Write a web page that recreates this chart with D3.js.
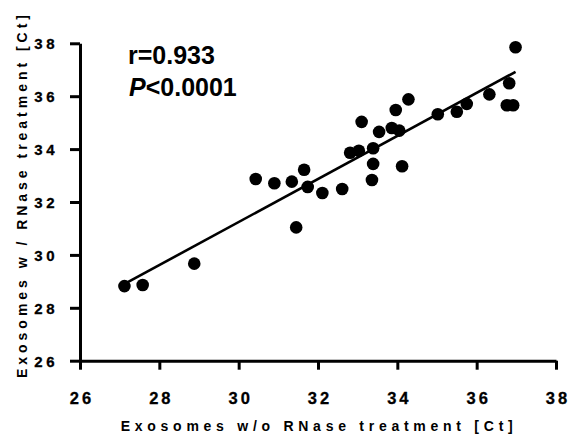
<!DOCTYPE html>
<html>
<head>
<meta charset="utf-8">
<script src="https://cdn.jsdelivr.net/npm/d3@7"></script>
<style>
  body { margin: 0; background: #fff; }
  text { font-family: "Liberation Sans", Arial, sans-serif; font-weight: bold; fill: #000; }
</style>
</head>
<body>
<div id="chart"></div>
<script>
/* Data
======================================================================= */
var withoutRNase = [27.12, 27.58, 28.88, 30.43, 30.90, 31.34, 31.45, 31.65, 31.74, 32.11,
                    32.61, 32.81, 33.03, 33.10, 33.36, 33.39, 33.39, 33.54, 33.86, 33.96,
                    34.05, 34.12, 34.28, 35.02, 35.50, 35.75, 36.32, 36.76, 36.82, 36.92, 36.98],
    withRNase = [28.82, 28.86, 29.67, 32.87, 32.71, 32.77, 31.04, 33.22, 32.57, 32.34,
                 32.49, 33.86, 33.94, 35.03, 32.83, 34.03, 33.44, 34.65, 34.80, 35.48,
                 34.70, 33.35, 35.88, 35.32, 35.41, 35.71, 36.07, 35.66, 36.49, 35.66, 37.85],
    fitRange = [27.17, 36.98], // x span of the fitted line
    fitSlope = 0.8135,         // slope of the fitted line
    fitIntercept = 6.838,      // intercept of the fitted line
    tickValues = [26, 28, 30, 32, 34, 36, 38],
    statLabels = ['r=0.933', '<0.0001'];

var W = 578, H = 439;

var svg = d3.select('#chart').append('svg')
  .attr('width', W)
  .attr('height', H);

// Scales
var x = d3.scaleLinear().domain([26, 38]).range([80, 556]),
    y = d3.scaleLinear().domain([26, 38]).range([360.7, 43.3]);

// X axis
var gx = svg.append('g')
  .attr('transform', 'translate(0,' + y(26) + ')')
  .call(d3.axisBottom(x).tickValues(tickValues).tickSize(9).tickSizeOuter(0).tickPadding(23));
gx.select('.domain').attr('stroke-width', 3);
gx.selectAll('.tick line').attr('stroke-width', 3);
gx.selectAll('.tick text')
  .style('font-size', '16.5px')
  .style('letter-spacing', '3px')
  .style('stroke', '#000')
  .style('stroke-width', '0.3px')
  .attr('dx', '1.5px');

// Y axis
var gy = svg.append('g')
  .attr('transform', 'translate(' + x(26) + ',0)')
  .call(d3.axisLeft(y).tickValues(tickValues).tickSize(10).tickSizeOuter(0).tickPadding(12));
gy.select('.domain').attr('stroke-width', 3);
gy.selectAll('.tick line').attr('stroke-width', 3);
gy.selectAll('.tick text')
  .style('font-size', '15px')
  .style('letter-spacing', '3.5px')
  .style('stroke', '#000')
  .style('stroke-width', '0.3px')
  .attr('dy', '0.36em');

// Regression line
svg.append('line')
  .attr('x1', x(fitRange[0])).attr('y1', y(fitIntercept + fitSlope * fitRange[0]))
  .attr('x2', x(fitRange[1])).attr('y2', y(fitIntercept + fitSlope * fitRange[1]))
  .attr('stroke', '#000')
  .attr('stroke-width', 2.6);

// Points
svg.append('g').selectAll('circle')
  .data(withoutRNase)
  .enter().append('circle')
    .attr('cx', function(d) { return x(d); })
    .attr('cy', function(d, i) { return y(withRNase[i]); })
    .attr('r', 6.3)
    .attr('fill', '#000');

// Stats text
svg.append('text')
  .attr('x', 128).attr('y', 64)
  .style('font-size', '25px')
  .text(statLabels[0]);

var p = svg.append('text')
  .attr('x', 129).attr('y', 96)
  .style('font-size', '25px');
p.append('tspan').style('font-style', 'italic').text('P');
p.append('tspan').text(statLabels[1]);

// Axis titles
svg.append('text')
  .attr('x', 120.7).attr('y', 430.7)
  .attr('textLength', 392)
  .attr('lengthAdjust', 'spacing')
  .style('font-size', '14px')
  .text('Exosomes w/o RNase treatment [Ct]');

svg.append('text')
  .attr('transform', 'translate(27,378) rotate(-90)')
  .attr('textLength', 363)
  .attr('lengthAdjust', 'spacing')
  .style('font-size', '14px')
  .text('Exosomes w / RNase treatment [Ct]');
</script>
</body>
</html>
